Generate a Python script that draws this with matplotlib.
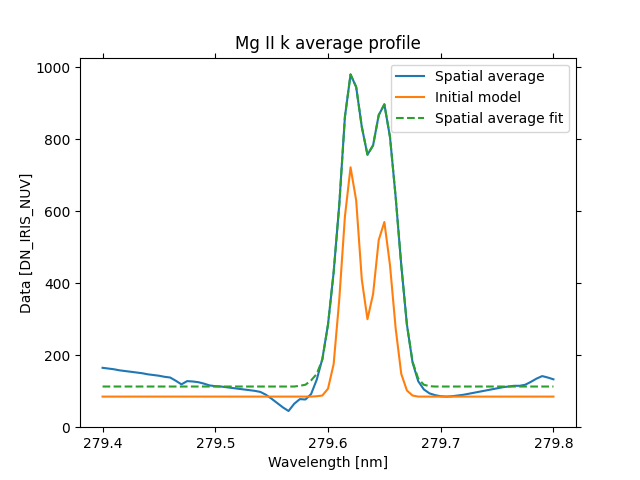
import matplotlib
matplotlib.use("Agg")
import matplotlib.pyplot as plt
import numpy as np

# Wavelength grid: 81 samples, 0.005 nm apart
WAVE_START = 279.4
WAVE_STEP = 0.005
N_POINTS = 81

spatial_average = [
    165, 163, 161, 158, 156, 154, 152, 150, 147, 145,
    143, 140, 138, 129, 119, 128, 127, 125, 121, 116,
    114, 113, 111, 109, 107, 105, 103, 101, 98, 90,
    79, 67, 55, 45, 65, 78, 77, 92, 132, 190,
    285, 430, 618, 862, 980, 945, 834, 757, 783, 867,
    897, 806, 640, 450, 285, 180, 128, 105, 94, 89,
    86, 85, 86, 88, 90, 93, 96, 99, 102, 105,
    108, 111, 113, 115, 115, 118, 126, 135, 142, 138,
    133,
]

initial_model = [85] * 38 + [
    86, 88, 107, 175, 355, 585, 722, 630, 410, 300,
    370, 520, 570, 450, 275, 148, 102, 88,
] + [85] * 25

spatial_fit = [113] * 35 + [
    115, 118, 130, 148, 188,
    285, 430, 618, 862, 980, 945, 834, 757, 783, 867,
    897, 806, 640, 450, 285, 182, 135, 118, 114,
] + [113] * 22

wavelength = WAVE_START + WAVE_STEP * np.arange(N_POINTS)

fig, ax = plt.subplots(figsize=(6.4, 4.8), dpi=100)
ax.plot(wavelength, spatial_average, color="#1f77b4", label="Spatial average")
ax.plot(wavelength, initial_model, color="#ff7f0e", label="Initial model")
ax.plot(wavelength, spatial_fit, color="#2ca02c", linestyle="--", label="Spatial average fit")

ax.set_ylim(bottom=0)
ax.set_xticks([279.4, 279.5, 279.6, 279.7, 279.8])
ax.tick_params(top=True, right=True)
ax.set_xlabel("Wavelength [nm]")
ax.set_ylabel("Data [DN_IRIS_NUV]", labelpad=0.5)
ax.set_title("Mg II k average profile")
ax.legend(loc="upper right")

fig.savefig("out.png", dpi=100)
